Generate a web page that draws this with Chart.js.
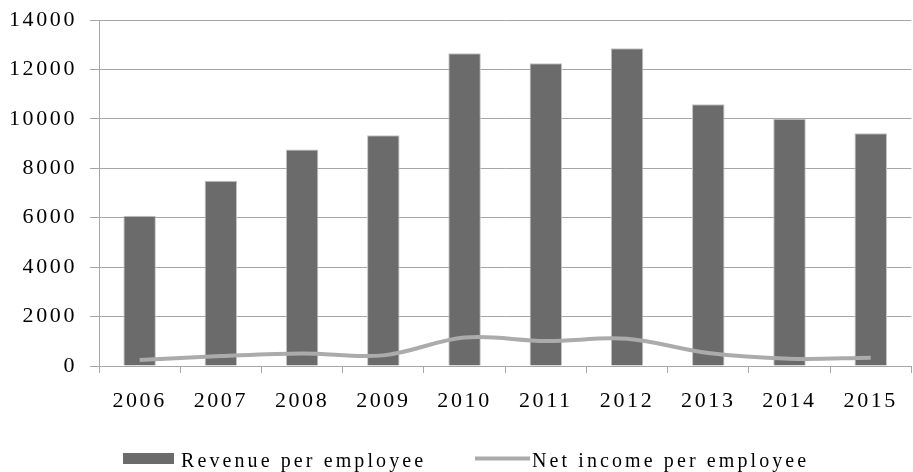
<!DOCTYPE html>
<html>
<head>
<meta charset="utf-8">
<script src="https://cdn.jsdelivr.net/npm/chart.js@4/dist/chart.umd.min.js"></script>
<style>
  html, body { margin: 0; padding: 0; background: #ffffff; }
  #wrap { width: 913px; height: 472px; }
</style>
</head>
<body>
<div id="wrap"><canvas id="chart" width="913" height="472"></canvas></div>
<script>
// Per-employee figures by year
const years = ['2006', '2007', '2008', '2009', '2010', '2011', '2012', '2013', '2014', '2015'];
const revenuePerEmployee = [6080, 7500, 8760, 9340, 12650, 12250, 12860, 10590, 10000, 9420];
const netIncomePerEmployee = [240, 400, 510, 430, 1150, 1010, 1100, 525, 295, 335];
const yTicks = [0, 2000, 4000, 6000, 8000, 10000, 12000, 14000];

const FONT = '"Liberation Serif", "Times New Roman", serif';
const SPACING = '2.6px';
const GRID = '#a6a6a6';

// Wide serif lettering for all canvas text
const spacingPlugin = {
  id: 'spacing',
  beforeLayout(chart) { chart.ctx.letterSpacing = SPACING; },
  beforeDraw(chart) { chart.ctx.letterSpacing = SPACING; }
};

// Legend row under the axis: bar swatch and line swatch with labels
const bottomLegend = {
  id: 'bottomLegend',
  afterDraw(chart) {
    const ctx = chart.ctx;
    const ds = chart.data.datasets;
    ctx.save();
    ctx.letterSpacing = '3.1px';
    ctx.font = '20px ' + FONT;
    ctx.textBaseline = 'alphabetic';
    ctx.textAlign = 'left';
    // bars
    ctx.fillStyle = ds[0].backgroundColor;
    ctx.fillRect(123, 453, 51, 11);
    ctx.fillStyle = '#000';
    ctx.fillText(ds[0].label, 181, 466.5);
    // line
    ctx.strokeStyle = ds[1].borderColor;
    ctx.lineWidth = 4;
    ctx.beginPath();
    ctx.moveTo(475, 458.5);
    ctx.lineTo(530, 458.5);
    ctx.stroke();
    ctx.fillText(ds[1].label, 532, 466.5);
    ctx.restore();
  }
};

new Chart(document.getElementById('chart'), {
  data: {
    labels: years,
    datasets: [
      {
        type: 'bar',
        label: 'Revenue per employee',
        data: revenuePerEmployee,
        backgroundColor: '#6b6b6b',
        borderColor: '#c4c4c4',
        borderWidth: 1,
        barPercentage: 0.4,
        categoryPercentage: 1.0,
        order: 1
      },
      {
        type: 'line',
        label: 'Net income per employee',
        data: netIncomePerEmployee,
        borderColor: '#ababab',
        borderWidth: 4,
        pointRadius: 0,
        tension: 0.35,
        fill: false,
        order: 0
      }
    ]
  },
  options: {
    responsive: false,
    animation: false,
    devicePixelRatio: 1,
    layout: { padding: { top: 20, right: 1, left: 0, bottom: 0 } },
    plugins: {
      legend: { display: false },
      tooltip: { enabled: false }
    },
    scales: {
      x: {
        offset: true,
        grid: {
          offset: true,
          drawOnChartArea: false,
          drawTicks: true,
          tickLength: 7,
          color: GRID
        },
        border: { display: true, color: GRID, width: 1 },
        ticks: {
          color: '#000',
          font: { family: FONT, size: 22 },
          padding: 15,
          maxRotation: 0
        },
        afterFit(scale) { scale.height = 106; }
      },
      y: {
        min: 0,
        max: 14000,
        afterBuildTicks(scale) { scale.ticks = yTicks.map(v => ({ value: v })); },
        grid: {
          color: GRID,
          lineWidth: 1,
          drawTicks: true,
          tickLength: 9
        },
        border: { display: true, color: GRID, width: 1 },
        ticks: {
          color: '#000',
          font: { family: FONT, size: 22 },
          padding: 13,
          callback: v => String(v)
        },
        afterFit(scale) {
          scale.width = 99;
          scale.paddingTop = 0;
          scale.paddingBottom = 0;
        }
      }
    }
  },
  plugins: [spacingPlugin, bottomLegend]
});
</script>
</body>
</html>
